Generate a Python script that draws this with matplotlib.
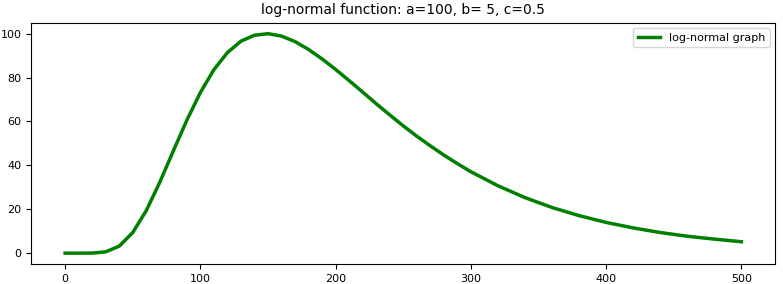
import matplotlib.pyplot as plt

# values
x_vals = [0, 10, 20, 30, 40, 50, 60, 70, 80, 90, 100, 110, 120, 130, 140, 150,
          160, 170, 180, 190, 200, 210, 220, 230, 240, 250, 260, 270, 280, 290,
          300, 320, 340, 360, 380, 400, 420, 440, 460, 480, 500]
y_vals = [0.0, 0.0, 0.03, 0.6, 3.2, 9.4, 19.4, 32.3, 46.6, 60.6, 73.2, 83.6,
          91.4, 96.6, 99.3, 100.0, 98.9, 96.4, 92.8, 88.5, 83.7, 78.6, 73.4,
          68.1, 63.0, 58.0, 53.3, 48.9, 44.7, 40.8, 37.1, 30.7, 25.3, 20.8,
          17.1, 14.0, 11.5, 9.4, 7.7, 6.4, 5.2]

fig, ax = plt.subplots(figsize=(7.83, 2.84), dpi=100)
ax.plot(x_vals, y_vals, color='green', linewidth=2.5, label='log-normal graph')
ax.set_title('log-normal function: a=100, b= 5, c=0.5', fontsize=10)
ax.tick_params(labelsize=8)
ax.legend(loc='upper right', fontsize=8)

plt.subplots_adjust(left=0.04, right=0.99, top=0.92, bottom=0.07)
plt.savefig('out.png')
